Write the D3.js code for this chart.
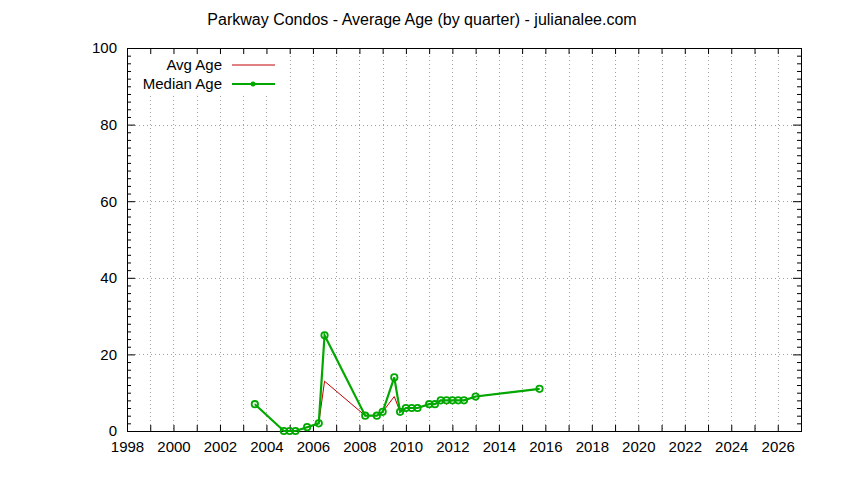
<!DOCTYPE html>
<html>
<head>
<meta charset="utf-8">
<script src="https://cdn.jsdelivr.net/npm/d3@7"></script>
<style>
  body { margin: 0; background: #fff; }
  svg { display: block; font-family: "Liberation Sans", sans-serif; }
</style>
</head>
<body>
<svg id="chart" width="844" height="480"></svg>
<script>
// quarters as decimal years
const quarters = [2003.5, 2004.75, 2005, 2005.25, 2005.75, 2006.25, 2006.5,
  2008.25, 2008.75, 2009, 2009.5, 2009.75, 2010, 2010.25, 2010.5,
  2011, 2011.25, 2011.5, 2011.75, 2012, 2012.25, 2012.5, 2013, 2015.75]
const avgAge = [7, 0, 0, 0, 1, 2, 13, 4, 4, 5, 9, 5, 6, 6, 6, 7, 7, 8, 7, 8, 8, 8, 9, 11]
const medianAge = [7, 0, 0, 0, 1, 2, 25, 4, 4, 5, 14, 5, 6, 6, 6, 7, 7, 8, 8, 8, 8, 8, 9, 11]
const yTickLabels = [0, 20, 40, 60, 80, 100]

const svg = d3.select('#chart')
const m = { top: 48, right: 43, bottom: 49, left: 127 }
const w = 844 - m.left - m.right
const h = 480 - m.top - m.bottom

const x = d3.scaleLinear().domain([1998, 2027]).range([m.left, m.left + w])
const y = d3.scaleLinear().domain([0, 100]).range([m.top + h, m.top])

const red = '#c00000'
const green = '#00a800'
const fs = 15

svg.append('text')
  .attr('x', 422).attr('y', 25)
  .attr('text-anchor', 'middle')
  .attr('font-size', 16)
  .text('Parkway Condos - Average Age (by quarter) - julianalee.com')

// grid
const grid = svg.append('g')
  .attr('stroke', '#a0a0a0')
  .attr('stroke-width', 1)
  .attr('stroke-dasharray', '1,3')
grid.selectAll('.vg')
  .data(d3.range(1999, 2027))
  .join('line')
  .attr('x1', (d) => Math.round(x(d)) + 0.5).attr('x2', (d) => Math.round(x(d)) + 0.5)
  .attr('y1', m.top).attr('y2', m.top + h)
grid.selectAll('.hg')
  .data([20, 40, 60, 80])
  .join('line')
  .attr('x1', m.left).attr('x2', m.left + w)
  .attr('y1', (d) => Math.round(y(d)) + 0.5).attr('y2', (d) => Math.round(y(d)) + 0.5)

// legend background hides grid
svg.append('rect')
  .attr('x', m.left + 1).attr('y', m.top + 1)
  .attr('width', 157).attr('height', 47)
  .attr('fill', '#fff')

// axes
const years = d3.range(1998, 2028)
const xBottom = d3.axisBottom(x).tickValues(years).tickSize(-6).tickPadding(10)
  .tickFormat((d) => d % 2 === 0 && d <= 2026 ? d : '')
const xTop = d3.axisTop(x).tickValues(years).tickSize(-6).tickFormat('')
const yLeft = d3.axisLeft(y).tickValues(yTickLabels).tickSize(-8).tickPadding(10)
const yRight = d3.axisRight(y).tickValues(yTickLabels).tickSize(-8).tickFormat('')
const yMinor = d3.range(0, 101, 2).filter((d) => d % 20 !== 0)

function styleAxis (g) {
  g.select('.domain').remove()
  g.selectAll('line').attr('stroke', '#000')
  g.selectAll('text').attr('font-size', fs).attr('fill', '#000')
}

svg.append('g').attr('transform', `translate(0,${m.top + h})`).call(xBottom).call(styleAxis)
svg.append('g').attr('transform', `translate(0,${m.top})`).call(xTop).call(styleAxis)
svg.append('g').attr('transform', `translate(${m.left},0)`).call(yLeft).call(styleAxis)
svg.append('g').attr('transform', `translate(${m.left + w},0)`).call(yRight).call(styleAxis)
svg.append('g').attr('transform', `translate(${m.left},0)`)
  .call(d3.axisLeft(y).tickValues(yMinor).tickSize(-4).tickFormat('')).call(styleAxis)
svg.append('g').attr('transform', `translate(${m.left + w},0)`)
  .call(d3.axisRight(y).tickValues(yMinor).tickSize(-4).tickFormat('')).call(styleAxis)

svg.append('rect')
  .attr('x', m.left + 0.5).attr('y', m.top + 0.5)
  .attr('width', w).attr('height', h)
  .attr('fill', 'none').attr('stroke', '#000').attr('stroke-width', 1)

// series
const line = d3.line().x((d, i) => x(quarters[i])).y((d) => y(d))
svg.append('path')
  .datum(avgAge)
  .attr('d', line)
  .attr('fill', 'none').attr('stroke', red).attr('stroke-width', 1)

svg.append('path')
  .datum(medianAge)
  .attr('d', line)
  .attr('fill', 'none').attr('stroke', green).attr('stroke-width', 2.2)

svg.append('g').selectAll('circle')
  .data(medianAge)
  .join('circle')
  .attr('cx', (d, i) => x(quarters[i]))
  .attr('cy', (d) => y(d))
  .attr('r', 3.2)
  .attr('fill', 'none')
  .attr('stroke', green)
  .attr('stroke-width', 1.8)

// legend
const legend = svg.append('g').attr('font-size', fs)
const items = [
  { name: 'Avg Age', color: red, width: 1, point: false },
  { name: 'Median Age', color: green, width: 2.2, point: true }
]
items.forEach((it, i) => {
  const ly = 65 + i * 19
  legend.append('text')
    .attr('x', 222).attr('y', ly + 5)
    .attr('text-anchor', 'end')
    .text(it.name)
  legend.append('line')
    .attr('x1', 232).attr('x2', 275)
    .attr('y1', ly).attr('y2', ly)
    .attr('stroke', it.color).attr('stroke-width', it.width)
  if (it.point) {
    legend.append('circle')
      .attr('cx', 253).attr('cy', ly).attr('r', 2.5)
      .attr('fill', it.color)
  }
})
</script>
</body>
</html>
